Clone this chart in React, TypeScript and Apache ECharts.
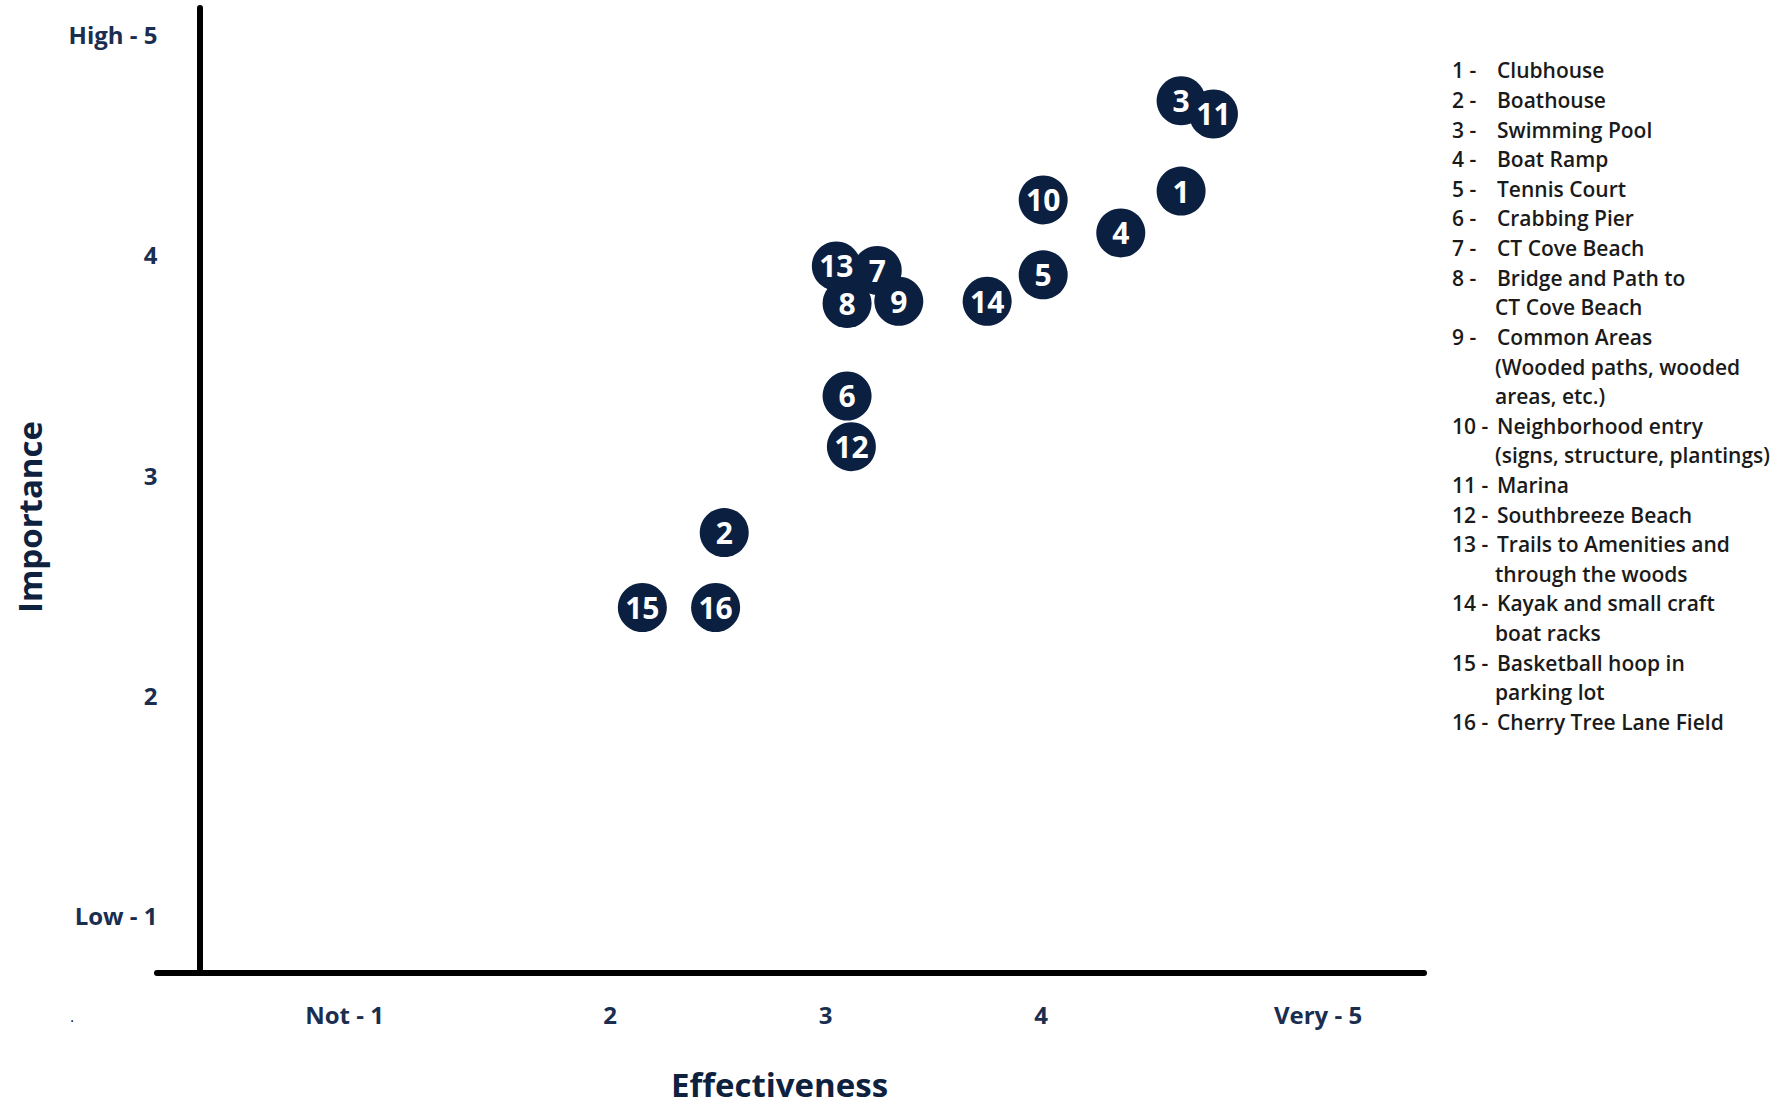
import React, { useEffect, useRef } from "react";
import * as echarts from "echarts";

// Amenity numbers and their survey scores
const ids = ["1", "2", "3", "4", "5", "6", "7", "8", "9", "10", "11", "12", "13", "14", "15", "16"];
const effectiveness = [4.65, 2.53, 4.65, 4.37, 4.01, 3.1, 3.24, 3.1, 3.34, 4.01, 4.8, 3.12, 3.05, 3.75, 2.15, 2.49];
const importance = [4.29, 2.74, 4.7, 4.1, 3.91, 3.36, 3.93, 3.78, 3.79, 4.25, 4.64, 3.13, 3.95, 3.79, 2.4, 2.4];

// Key entries (continuation lines separated by \n)
const amenityNames = [
  "Clubhouse",
  "Boathouse",
  "Swimming Pool",
  "Boat Ramp",
  "Tennis Court",
  "Crabbing Pier",
  "CT Cove Beach",
  "Bridge and Path to\nCT Cove Beach",
  "Common Areas\n(Wooded paths, wooded\nareas, etc.)",
  "Neighborhood entry\n(signs, structure, plantings)",
  "Marina",
  "Southbreeze Beach",
  "Trails to Amenities and\nthrough the woods",
  "Kayak and small craft\nboat racks",
  "Basketball hoop in\nparking lot",
  "Cherry Tree Lane Field",
];

// Tick labels
const tickValues = [1, 2, 3, 4, 5];
const xTickLabels = ["Not - 1", "2", "3", "4", "Very - 5"];
const yTickLabels = ["Low - 1", "2", "3", "4", "High - 5"];

const NAVY = "#0b1f40";
const LABEL_NAVY = "#1a2e50";
const FONT = "'Open Sans', 'Noto Sans', sans-serif";

function buildKey() {
  const els: any[] = [];
  const x0 = 1452;
  const xText = 1497;
  const step = 29.62;
  let y = 70.3;
  amenityNames.forEach((name, i) => {
    els.push({
      type: "text",
      x: x0,
      y,
      style: {
        text: `${ids[i]} -`,
        fill: "#1a1a1a",
        font: `600 21px ${FONT}`,
        textVerticalAlign: "middle",
      },
    });
    name.split("\n").forEach((line, j) => {
      els.push({
        type: "text",
        x: j === 0 ? xText : xText - 2,
        y,
        style: {
          text: line,
          fill: "#1a1a1a",
          font: `600 21px ${FONT}`,
          textVerticalAlign: "middle",
        },
      });
      y += step;
    });
  });
  return els;
}

export default function App() {
  const ref = useRef<HTMLDivElement>(null);

  useEffect(() => {
    if (!ref.current) return;
    const chart = echarts.init(ref.current, null, { renderer: "svg" });

    const points = ids.map((id, i) => ({ name: id, value: [effectiveness[i], importance[i]] }));

    chart.setOption({
      animation: false,
      backgroundColor: "#ffffff",
      grid: { left: 157, right: 1777 - 1424, top: 8, bottom: 1107 - 973, containLabel: false },
      xAxis: {
        type: "value",
        min: -0.102,
        max: 5.777,
        splitLine: { show: false },
        axisTick: { show: false },
        axisLine: { show: true, onZero: false, lineStyle: { color: "#000", width: 6 } },
        axisLabel: {
          customValues: tickValues,
          margin: 29,
          formatter: (v: number) => {
            const idx = tickValues.indexOf(Math.round(v));
            const t = xTickLabels[idx];
            if (idx === 0) return `{l|${t}}`;
            if (idx === tickValues.length - 1) return `{r|${t}}`;
            return `{m|${t}}`;
          },
          rich: {
            l: { padding: [0, 100, 0, 0], fontSize: 24, fontWeight: "bold", fontFamily: FONT, color: LABEL_NAVY, lineHeight: 24 },
            r: { padding: [0, 0, 0, 123], fontSize: 24, fontWeight: "bold", fontFamily: FONT, color: LABEL_NAVY, lineHeight: 24 },
            m: { fontSize: 24, fontWeight: "bold", fontFamily: FONT, color: LABEL_NAVY, lineHeight: 24 },
          },
        },
      },
      yAxis: {
        type: "value",
        min: 0.741,
        max: 5.121,
        offset: -42.5,
        splitLine: { show: false },
        axisTick: { show: false },
        axisLine: { show: true, onZero: false, lineStyle: { color: "#000", width: 6 } },
        axisLabel: {
          customValues: tickValues,
          margin: 42,
          formatter: (v: number) => yTickLabels[tickValues.indexOf(Math.round(v))],
          fontSize: 24,
          fontWeight: "bold",
          fontFamily: FONT,
          color: LABEL_NAVY,
        },
      },
      graphic: [
        {
          type: "text",
          x: 779.5,
          y: 1084,
          style: {
            text: "Effectiveness",
            fill: "#0e2240",
            font: `bold 33px ${FONT}`,
            textAlign: "center",
            textVerticalAlign: "middle",
          },
        },
        {
          type: "text",
          x: 29,
          y: 517,
          rotation: Math.PI / 2,
          style: {
            text: "Importance",
            fill: "#0e2240",
            font: `bold 33px ${FONT}`,
            textAlign: "center",
            textVerticalAlign: "middle",
          },
        },
        {
          type: "text",
          x: 72,
          y: 1016,
          style: { text: ".", fill: "#000", font: `normal 14px ${FONT}`, textAlign: "center", textVerticalAlign: "middle" },
        },
        ...buildKey(),
      ],
      series: [
        {
          type: "scatter",
          data: points,
          symbol: "circle",
          symbolSize: 49,
          itemStyle: { color: NAVY, opacity: 1 },
          label: {
            show: true,
            position: "inside",
            formatter: "{b}",
            color: "#ffffff",
            fontSize: 30,
            fontWeight: "bold",
            fontFamily: FONT,
          },
          emphasis: { disabled: true },
        },
      ],
    });

    return () => chart.dispose();
  }, []);

  return (
    <div
      ref={ref}
      style={{ position: "fixed", left: 0, top: 0, width: 1777, height: 1107, background: "#fff" }}
    />
  );
}
